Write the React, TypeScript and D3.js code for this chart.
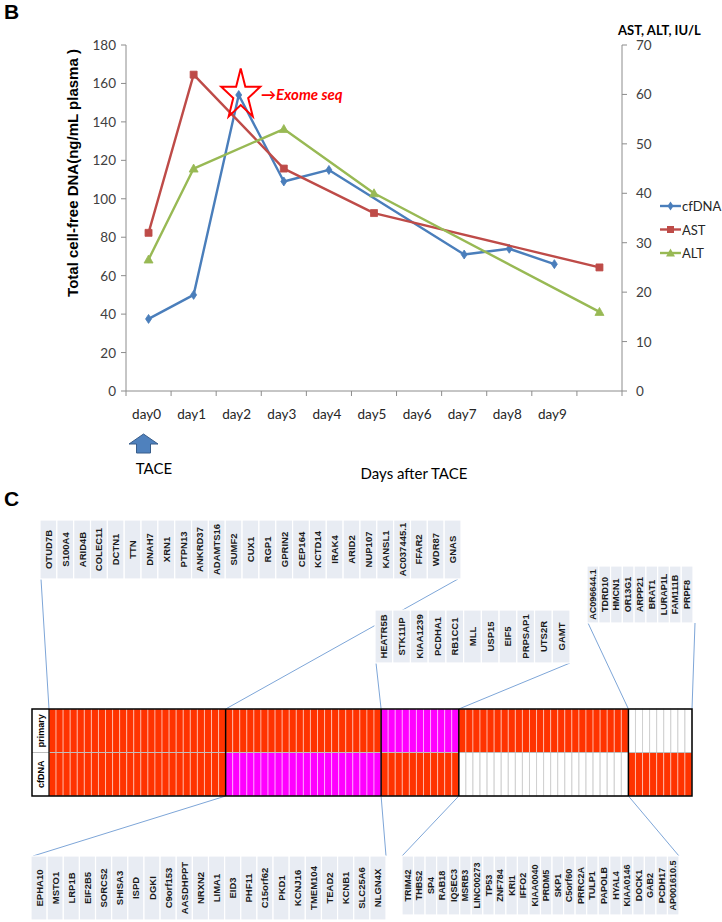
import React from "react";
import * as d3 from "d3";

// ---------- Panel B data ----------
const dayLabels = ["day0", "day1", "day2", "day3", "day4", "day5", "day6", "day7", "day8", "day9", ""];
const cfDNA = [37.5, 50, 154, 109, 115, null, null, 71, 74, 66, null];
const AST = [32, 64, null, 45, null, 36, null, null, null, null, 25];
const ALT = [26.6, 45, null, 53, null, 40, null, null, null, null, 16];
const leftTicks = [0, 20, 40, 60, 80, 100, 120, 140, 160, 180];
const rightTicks = [0, 10, 20, 30, 40, 50, 60, 70];

// ---------- Panel C data ----------
const genesTopLeft = ["OTUD7B", "S100A4", "ARID4B", "COLEC11", "DCTN1", "TTN", "DNAH7", "XRN1", "PTPN13", "ANKRD37", "ADAMTS16", "SUMF2", "CUX1", "RGP1", "GPRIN2", "CEP164", "KCTD14", "IRAK4", "ARID2", "NUP107", "KANSL1", "AC037445.1", "FFAR2", "WDR87", "GNAS"];
const genesBottomLeft = ["EPHA10", "MSTO1", "LRP1B", "EIF2B5", "SORCS2", "SHISA3", "ISPD", "DGKI", "C9orf153", "AASDHPPT", "NRXN2", "LIMA1", "EID3", "PHF11", "C15orf62", "PKD1", "KCNJ16", "TMEM104", "TEAD2", "KCNB1", "SLC25A6", "NLGN4X"];
const genesMiddleTop = ["HEATR5B", "STK11IP", "KIAA1239", "PCDHA1", "RB1CC1", "MLL", "USP15", "EIF5", "PRPSAP1", "UTS2R", "GAMT"];
const genesBottomRight = ["TRIM42", "THBS2", "SP4", "RAB18", "IQSEC3", "MSRB3", "LINC00273", "TP53", "ZNF784", "KRI1", "IFFO2", "KIAA0040", "PRDM5", "SKP1", "C5orf60", "PRRC2A", "TULP1", "PAPOLB", "HYAL4", "KIAA0146", "DOCK1", "GAB2", "PCDH17", "AP001610.5"];
const genesTopRight = ["AC096644.1", "TDRD10", "HMCN1", "OR13G1", "ARPP21", "BRAT1", "LURAP1L", "FAM111B", "PRPF8"];
const heatRows = ["primary", "cfDNA"];
const primaryStatus = ["O", "O", "M", "O", "W"];
const cfDNAStatus = ["O", "M", "O", "W", "O"];
const groups = [genesTopLeft, genesBottomLeft, genesMiddleTop, genesBottomRight, genesTopRight];

const statusColor: Record<string, string> = { O: "#ff3300", M: "#ff00ff", W: "#ffffff" };

const FONT = "Lato, 'Open Sans', sans-serif";
const ARIAL = "'Liberation Sans', Arial, sans-serif";

function LabelBox(props: { genes: string[]; x0: number; x1: number; y0: number; y1: number; fs: number }) {
  const { genes, x0, x1, y0, y1, fs } = props;
  const bx = d3.scaleBand<number>().domain(d3.range(genes.length)).range([x0, x1]);
  const cy = (y0 + y1) / 2;
  return (
    <g>
      {genes.map((g, i) => (
        <g key={g}>
          <rect x={bx(i)!} y={y0} width={bx.bandwidth()} height={y1 - y0} fill="#e8ecf3" stroke="#ffffff" strokeWidth={1.2} />
          <text
            transform={`translate(${bx(i)! + bx.bandwidth() / 2},${cy}) rotate(-90)`}
            textAnchor="middle"
            dominantBaseline="central"
            fontFamily={ARIAL}
            fontSize={fs}
            fontWeight="bold"
            fill="#1a1a1a"
          >
            {g}
          </text>
        </g>
      ))}
    </g>
  );
}

export default function App() {
  const x = d3.scaleBand<number>().domain(d3.range(dayLabels.length)).range([126, 622]);
  const cx = (i: number) => x(i)! + x.bandwidth() / 2;
  const yL = d3.scaleLinear().domain([0, 180]).range([391, 45]);
  const yR = d3.scaleLinear().domain([0, 70]).range([391, 45]);

  const series = [
    { name: "cfDNA", values: cfDNA, scale: yL, color: "#4a7ebb", marker: "diamond" },
    { name: "AST", values: AST, scale: yR, color: "#be4b48", marker: "square" },
    { name: "ALT", values: ALT, scale: yR, color: "#98b954", marker: "triangle" },
  ];

  const lineGen = d3.line<[number, number]>().x((d) => d[0]).y((d) => d[1]);

  const markerPath = (m: string, px: number, py: number) => {
    if (m === "square") return `M${px - 3.5},${py - 3.5}h7v7h-7z`;
    if (m === "triangle") return `M${px},${py - 4.5}L${px + 4.5},${py + 3.5}L${px - 4.5},${py + 3.5}z`;
    return `M${px},${py - 4.5}L${px + 3},${py}L${px},${py + 4.5}L${px - 3},${py}z`;
  };

  // star annotation
  const starI = 2;
  const starCx = cx(starI) + 2;
  const starCy = yL(cfDNA[starI] as number) - 3;
  const starPts: [number, number][] = [];
  for (let k = 0; k < 10; k++) {
    const r = k % 2 === 0 ? 1 : 0.382;
    const a = -Math.PI / 2 + (k * Math.PI) / 5;
    starPts.push([starCx + 20.5 * r * Math.cos(a), starCy + 26.5 * r * Math.sin(a) + 3]);
  }

  // heatmap
  const allGenes = groups.flat();
  const hx = d3.scaleBand<number>().domain(d3.range(allGenes.length)).range([49, 692]);
  const hy = d3.scaleBand<string>().domain(heatRows).range([709, 796]);
  const groupIdx: number[] = [];
  groups.forEach((g, gi) => g.forEach(() => groupIdx.push(gi)));
  const boundaries: number[] = [];
  let acc = 0;
  groups.forEach((g) => {
    acc += g.length;
    boundaries.push(acc);
  });
  const colX = (i: number) => (i >= allGenes.length ? 692 : hx(i)!);

  const connectors: [number, number, number, number][] = [
    [41, 579, colX(0), 709],
    [458, 579, colX(boundaries[0]), 709],
    [376, 663, colX(boundaries[1]), 709],
    [570, 663, colX(boundaries[2]), 709],
    [588, 623, colX(boundaries[3]), 709],
    [695, 623, colX(boundaries[4]), 709],
    [33, 856, colX(boundaries[0]), 796],
    [386, 856, colX(boundaries[1]), 796],
    [402, 856, colX(boundaries[2]), 796],
    [679, 856, colX(boundaries[3]), 796],
  ];

  return (
    <svg width={722} height={922} style={{ position: "absolute", left: 0, top: 0, background: "#fff" }}>
      {/* Panel letters */}
      <text x={4} y={19} fontFamily={ARIAL} fontWeight="bold" fontSize={21}>B</text>
      <text x={4} y={506} fontFamily={ARIAL} fontWeight="bold" fontSize={21}>C</text>

      {/* Axes */}
      <line x1={126} x2={126} y1={45} y2={391} stroke="#8c8c8c" />
      <line x1={622} x2={622} y1={45} y2={391} stroke="#8c8c8c" />
      <line x1={126} x2={622} y1={391} y2={391} stroke="#8c8c8c" />
      {leftTicks.map((t) => (
        <g key={"l" + t}>
          <line x1={121} x2={126} y1={yL(t)} y2={yL(t)} stroke="#8c8c8c" />
          <text x={116} y={yL(t)} textAnchor="end" dominantBaseline="central" fontFamily={FONT} fontSize={13.5} fill="#404040">{t}</text>
        </g>
      ))}
      {rightTicks.map((t) => (
        <g key={"r" + t}>
          <line x1={622} x2={627} y1={yR(t)} y2={yR(t)} stroke="#8c8c8c" />
          <text x={636} y={yR(t)} textAnchor="start" dominantBaseline="central" fontFamily={FONT} fontSize={13.5} fill="#404040">{t}</text>
        </g>
      ))}
      {d3.range(dayLabels.length + 1).map((i) => {
        const xx = i < dayLabels.length ? x(i)! : 622;
        return <line key={"xt" + i} x1={xx} x2={xx} y1={391} y2={396} stroke="#8c8c8c" />;
      })}
      {dayLabels.map((d, i) => (
        <text key={"xl" + i} x={cx(i) - 2} y={419} textAnchor="middle" fontFamily={FONT} fontSize={13.5} fill="#262626">{d}</text>
      ))}

      {/* Axis titles */}
      <text transform="translate(78,173) rotate(-90)" textAnchor="middle" fontFamily={ARIAL} fontWeight="bold" fontSize={15} fill="#000">
        Total cell-free DNA(ng/mL plasma )
      </text>
      <text x={618} y={35} fontFamily={FONT} fontWeight="bold" fontSize={13} fill="#000">AST, ALT, IU/L</text>
      <text x={414} y={479} textAnchor="middle" fontFamily={FONT} fontSize={15} fill="#000">Days after TACE</text>

      {/* TACE arrow */}
      <path d="M129,444 L143.5,434 L158,444 L150.5,444 L150.5,453 L136.5,453 L136.5,444 Z" fill="#4f81bd" stroke="#385d8a" strokeWidth={1} />
      <text x={154} y={474} textAnchor="middle" fontFamily={FONT} fontSize={15} fill="#000">TACE</text>

      {/* Series */}
      {series.map((s) => {
        const pts = s.values
          .map((v, i) => (v == null ? null : ([cx(i), s.scale(v)] as [number, number])))
          .filter((p): p is [number, number] => p !== null);
        return (
          <g key={s.name}>
            <path d={lineGen(pts) || ""} fill="none" stroke={s.color} strokeWidth={2.4} strokeLinejoin="round" />
            {pts.map((p, k) => (
              <path key={k} d={markerPath(s.marker, p[0], p[1])} fill={s.color} stroke={s.color} strokeWidth={0.8} />
            ))}
          </g>
        );
      })}

      {/* Star annotation */}
      <polygon points={starPts.map((p) => p.join(",")).join(" ")} fill="none" stroke="#ff0000" strokeWidth={2} />
      <text x={261} y={100} fontFamily={FONT} fontWeight="bold" fontStyle="italic" fontSize={15} fill="#ff0000">→Exome seq</text>

      {/* Legend */}
      {series.map((s, i) => {
        const ly = 206 + i * 23.5;
        return (
          <g key={"lg" + s.name}>
            <line x1={660} x2={681} y1={ly} y2={ly} stroke={s.color} strokeWidth={2.4} />
            <path d={markerPath(s.marker, 670.5, ly)} fill={s.color} />
            <text x={682} y={ly} dominantBaseline="central" fontFamily={FONT} fontSize={13} fill="#262626">{s.name}</text>
          </g>
        );
      })}

      {/* Connector lines */}
      {connectors.map((c, i) => (
        <line key={"cn" + i} x1={c[0]} y1={c[1]} x2={c[2]} y2={c[3]} stroke="#7ea6d8" strokeWidth={1} />
      ))}

      {/* Label boxes */}
      <LabelBox genes={genesTopLeft} x0={40} x1={461} y0={520} y1={579} fs={9.5} />
      <LabelBox genes={genesMiddleTop} x0={375} x1={570} y0={610} y1={663} fs={9.5} />
      <LabelBox genes={genesTopRight} x0={587} x1={693} y0={566} y1={623} fs={9} />
      <LabelBox genes={genesBottomLeft} x0={31} x1={386} y0={856} y1={920} fs={9.5} />
      <LabelBox genes={genesBottomRight} x0={402} x1={679} y0={856} y1={915} fs={9} />

      {/* Heatmap */}
      <rect x={32} y={709} width={17} height={87} fill="#fff" />
      {heatRows.map((r) => {
        const status = r === "primary" ? primaryStatus : cfDNAStatus;
        return (
          <g key={r}>
            {allGenes.map((g, i) => {
              const st = status[groupIdx[i]];
              return (
                <rect
                  key={g}
                  x={hx(i)!}
                  y={hy(r)!}
                  width={hx.bandwidth()}
                  height={hy.bandwidth()}
                  fill={statusColor[st]}
                  stroke={st === "W" ? "#d0d0d0" : "rgba(255,255,255,0.45)"}
                  strokeWidth={1}
                />
              );
            })}
            <text
              transform={`translate(${40.5},${hy(r)! + hy.bandwidth() / 2}) rotate(-90)`}
              textAnchor="middle"
              dominantBaseline="central"
              fontFamily={ARIAL}
              fontWeight="bold"
              fontSize={9}
              fill="#000"
            >
              {r}
            </text>
          </g>
        );
      })}
      <line x1={32} x2={692} y1={hy("cfDNA")!} y2={hy("cfDNA")!} stroke="#bdbdbd" strokeWidth={1} />
      <line x1={49} x2={49} y1={709} y2={796} stroke="#000" strokeWidth={1.2} />
      {boundaries.slice(0, -1).map((b) => (
        <line key={"bd" + b} x1={colX(b)} x2={colX(b)} y1={709} y2={796} stroke="#000" strokeWidth={1.5} />
      ))}
      <rect x={32} y={709} width={660} height={87} fill="none" stroke="#000" strokeWidth={1.5} />
    </svg>
  );
}
